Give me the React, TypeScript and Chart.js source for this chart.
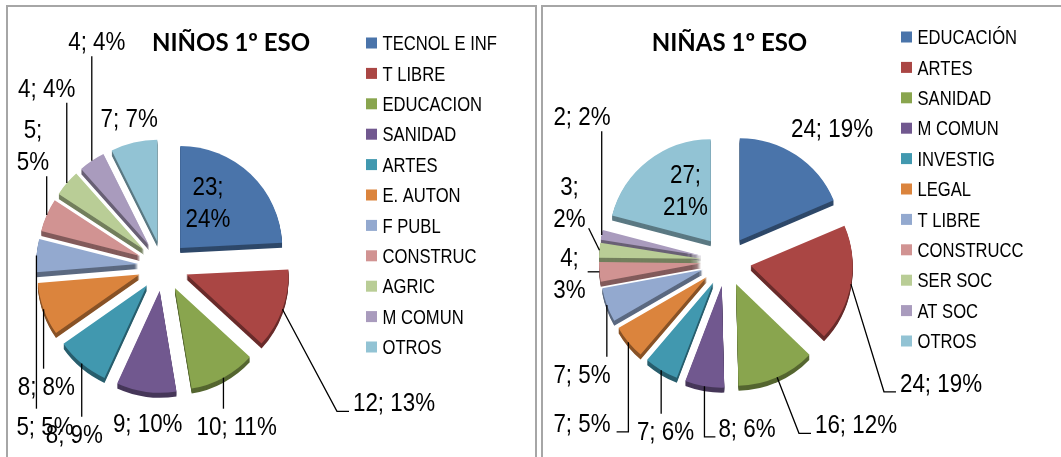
import React, { useEffect, useRef } from "react";
import { Chart, registerables } from "chart.js";

Chart.register(...registerables);

// ---------------- DATA ----------------
const boysTitle = "NIÑOS 1º ESO";
const boysCategories = ["TECNOL E INF", "T LIBRE", "EDUCACION", "SANIDAD", "ARTES", "E. AUTON", "F PUBL", "CONSTRUC", "AGRIC", "M COMUN", "OTROS"];
const boysValues = [23, 12, 10, 9, 8, 8, 5, 5, 4, 4, 7];
const boysPercents = [24, 13, 11, 10, 9, 8, 5, 5, 4, 4, 7];

const girlsTitle = "NIÑAS 1º ESO";
const girlsCategories = ["EDUCACIÓN", "ARTES", "SANIDAD", "M COMUN", "INVESTIG", "LEGAL", "T LIBRE", "CONSTRUCC", "SER SOC", "AT SOC", "OTROS"];
const girlsValues = [24, 24, 16, 8, 7, 7, 7, 4, 3, 2, 27];
const girlsPercents = [19, 19, 12, 6, 6, 5, 5, 3, 2, 2, 21];

// ---------------- STYLE ----------------
const sliceColors = ["#4A74AA", "#AA4644", "#89A54E", "#71588F", "#4198AF", "#DB843D", "#93A9CF", "#D19392", "#B9CD96", "#A99BBD", "#92C3D4"];

const W = 1061;
const H = 457;
const RADIUS = 102;
const EXPLODE = 25;
const DEPTH = 5;
const LABEL_FONT = '26px "Liberation Sans", Arial, sans-serif';
const LABEL_SX = 0.86;
const LEGEND_FONT = '20px "Liberation Sans", Arial, sans-serif';
const LEGEND_SX = 0.83;
const TITLE_FONT = 'bold 24px Lato, "Open Sans", sans-serif';
const DIGIT_H = 18.6;
const LINE_H = 32;
const LEGEND_STEP = 30.4;

type Leader = "none" | "down" | "up" | "elbowRight" | "downRight" | "downLeft" | "left" | "diagBR";
interface LabelPlace { dx: number; dy: number; split?: boolean; leader: Leader; }

const boysLabelLayout: LabelPlace[] = [
  { dx: 45, dy: -64, split: true, leader: "none" },
  { dx: 231, dy: 136, leader: "elbowRight" },
  { dx: 73.7, dy: 160, leader: "down" },
  { dx: -15.3, dy: 156.5, leader: "none" },
  { dx: -88.7, dy: 168, leader: "down" },
  { dx: -116.7, dy: 120, leader: "down" },
  { dx: -118, dy: 160, leader: "down" },
  { dx: -130, dy: -121, split: true, leader: "up" },
  { dx: -116.3, dy: -178.5, leader: "up" },
  { dx: -66.2, dy: -225, leader: "up" },
  { dx: -33.8, dy: -148.5, leader: "none" },
];

const girlsLabelLayout: LabelPlace[] = [
  { dx: 106, dy: -133.5, leader: "none" },
  { dx: 215, dy: 121.5, leader: "elbowRight" },
  { dx: 130, dy: 163, leader: "elbowRight" },
  { dx: 21, dy: 166.5, leader: "downRight" },
  { dx: -60.5, dy: 170, leader: "down" },
  { dx: -144, dy: 161.5, leader: "downLeft" },
  { dx: -144, dy: 113, leader: "down" },
  { dx: -156.5, dy: 12, split: true, leader: "left" },
  { dx: -156.5, dy: -59, split: true, leader: "diagBR" },
  { dx: -144, dy: -145, leader: "up" },
  { dx: -40.5, dy: -71, split: true, leader: "none" },
];

function shade(hex: string, f: number): string {
  const n = parseInt(hex.slice(1), 16);
  const r = Math.round(((n >> 16) & 255) * f);
  const g = Math.round(((n >> 8) & 255) * f);
  const b = Math.round((n & 255) * f);
  return `rgb(${r},${g},${b})`;
}

function narrowText(ctx: CanvasRenderingContext2D, text: string, x: number, y: number, sx: number, align: CanvasTextAlign) {
  ctx.save();
  ctx.translate(x, y);
  ctx.scale(sx, 1);
  ctx.textAlign = align;
  ctx.fillText(text, 0, 0);
  ctx.restore();
}

interface PieSpec {
  title: string;
  titleX: number;
  categories: string[];
  values: number[];
  percents: number[];
  layout: LabelPlace[];
  center: { x: number; y: number };
  legend: { x: number; y: number };
}

function makeChart(canvas: HTMLCanvasElement, spec: PieSpec): Chart {
  const half = 100;
  const pie3d = {
    id: "pie3d",
    beforeDatasetsDraw(chart: any) {
      const ctx = chart.ctx as CanvasRenderingContext2D;
      const meta = chart.getDatasetMeta(0);
      const colors = chart.data.datasets[0].backgroundColor as string[];
      meta.data.forEach((arc: any, i: number) => {
        const mid = (arc.startAngle + arc.endAngle) / 2;
        const ox = Math.cos(mid) * EXPLODE;
        const oy = Math.sin(mid) * EXPLODE;
        const base = arc.options;
        arc.options = { ...base, backgroundColor: shade(colors[i], 0.62), borderWidth: 0 };
        for (let d = DEPTH; d >= 1; d--) {
          ctx.save();
          ctx.translate(ox, oy + d);
          arc.draw(ctx);
          ctx.restore();
        }
        arc.options = base;
      });
      meta.data.forEach((arc: any) => {
        const mid = (arc.startAngle + arc.endAngle) / 2;
        ctx.save();
        ctx.translate(Math.cos(mid) * EXPLODE, Math.sin(mid) * EXPLODE);
        arc.draw(ctx);
        ctx.restore();
      });
      return false;
    },
    afterDraw(chart: any) {
      const ctx = chart.ctx as CanvasRenderingContext2D;
      const meta = chart.getDatasetMeta(0);
      const colors = chart.data.datasets[0].backgroundColor as string[];
      ctx.save();
      ctx.textBaseline = "alphabetic";
      // title
      ctx.font = TITLE_FONT;
      ctx.fillStyle = "#000";
      ctx.textAlign = "center";
      ctx.fillText(spec.title, spec.titleX, 51);
      // legend
      ctx.font = LEGEND_FONT;
      chart.data.labels.forEach((lab: string, i: number) => {
        const y = spec.legend.y + i * LEGEND_STEP;
        ctx.fillStyle = colors[i];
        ctx.fillRect(spec.legend.x, y - 5.5, 11, 11);
        ctx.fillStyle = "#000";
        narrowText(ctx, lab, spec.legend.x + 16.5, y + 7.2, LEGEND_SX, "left");
      });
      // data labels
      ctx.font = LABEL_FONT;
      ctx.strokeStyle = "#000";
      ctx.lineWidth = 1.3;
      meta.data.forEach((arc: any, i: number) => {
        const L = spec.layout[i];
        const mid = (arc.startAngle + arc.endAngle) / 2;
        const r = arc.outerRadius + EXPLODE;
        const ex = arc.x + Math.cos(mid) * r;
        const ey = arc.y + Math.sin(mid) * r;
        const v = spec.values[i];
        const p = spec.percents[i];
        const lines = L.split ? [`${v};`, `${p}%`] : [`${v}; ${p}%`];
        const cx = arc.x + L.dx;
        const cy = arc.y + L.dy;
        const n = lines.length;
        const w = Math.max(...lines.map((t) => ctx.measureText(t).width)) * LABEL_SX;
        const top = cy - ((n - 1) * LINE_H) / 2 - DIGIT_H / 2;
        const bottom = cy + ((n - 1) * LINE_H) / 2 + DIGIT_H / 2;
        const left = cx - w / 2;
        const right = cx + w / 2;
        ctx.fillStyle = "#000";
        lines.forEach((t, k) => narrowText(ctx, t, cx, cy + (k - (n - 1) / 2) * LINE_H + DIGIT_H / 2, LABEL_SX, "center"));
        ctx.beginPath();
        switch (L.leader) {
          case "down":
            ctx.moveTo(ex, ey);
            ctx.lineTo(ex, top - 8);
            break;
          case "up":
            ctx.moveTo(ex, ey);
            ctx.lineTo(ex, bottom + 6);
            break;
          case "elbowRight":
            ctx.moveTo(ex, ey);
            ctx.lineTo(left - 16, bottom);
            ctx.lineTo(left - 4, bottom);
            break;
          case "downRight":
            ctx.moveTo(ex, ey);
            ctx.lineTo(ex, bottom);
            ctx.lineTo(left - 3, bottom);
            break;
          case "downLeft":
            ctx.moveTo(ex, ey);
            ctx.lineTo(ex, bottom);
            ctx.lineTo(right + 6, bottom);
            break;
          case "left":
            ctx.moveTo(ex, ey);
            ctx.lineTo(right + 2, ey);
            break;
          case "diagBR":
            ctx.moveTo(ex, ey);
            ctx.lineTo(right + 3, bottom + 1);
            break;
          default:
            break;
        }
        ctx.stroke();
      });
      ctx.restore();
    },
  };

  return new Chart(canvas, {
    type: "pie",
    data: {
      labels: spec.categories,
      datasets: [{ data: spec.values, backgroundColor: sliceColors, borderWidth: 0 }],
    },
    options: {
      animation: false,
      responsive: false,
      events: [],
      radius: RADIUS,
      layout: {
        padding: {
          left: spec.center.x - half,
          top: spec.center.y - half,
          right: W - spec.center.x - half,
          bottom: H - spec.center.y - half,
        },
      },
      plugins: {
        legend: { display: false },
        title: { display: false },
        tooltip: { enabled: false },
      },
    } as any,
    plugins: [pie3d as any],
  });
}

export default function App() {
  const leftRef = useRef<HTMLCanvasElement>(null);
  const rightRef = useRef<HTMLCanvasElement>(null);

  useEffect(() => {
    const c1 = makeChart(leftRef.current!, {
      title: boysTitle,
      titleX: 231,
      categories: boysCategories,
      values: boysValues,
      percents: boysPercents,
      layout: boysLabelLayout,
      center: { x: 163, y: 266 },
      legend: { x: 366, y: 43 },
    });
    const c2 = makeChart(rightRef.current!, {
      title: girlsTitle,
      titleX: 729.5,
      categories: girlsCategories,
      values: girlsValues,
      percents: girlsPercents,
      layout: girlsLabelLayout,
      center: { x: 726, y: 261 },
      legend: { x: 901, y: 37 },
    });
    return () => {
      c1.destroy();
      c2.destroy();
    };
  }, []);

  return (
    <div style={{ position: "absolute", left: 0, top: 0, width: W, height: H, overflow: "hidden", background: "#fff" }}>
      <div style={{ position: "absolute", left: 6, top: 5, width: 531, height: 480, border: "2px solid #a6a6a6", boxSizing: "border-box" }} />
      <div style={{ position: "absolute", left: 541, top: 5, width: 540, height: 480, border: "2px solid #a6a6a6", boxSizing: "border-box" }} />
      <canvas ref={leftRef} width={W} height={H} style={{ position: "absolute", left: 0, top: 0 }} />
      <canvas ref={rightRef} width={W} height={H} style={{ position: "absolute", left: 0, top: 0 }} />
    </div>
  );
}
